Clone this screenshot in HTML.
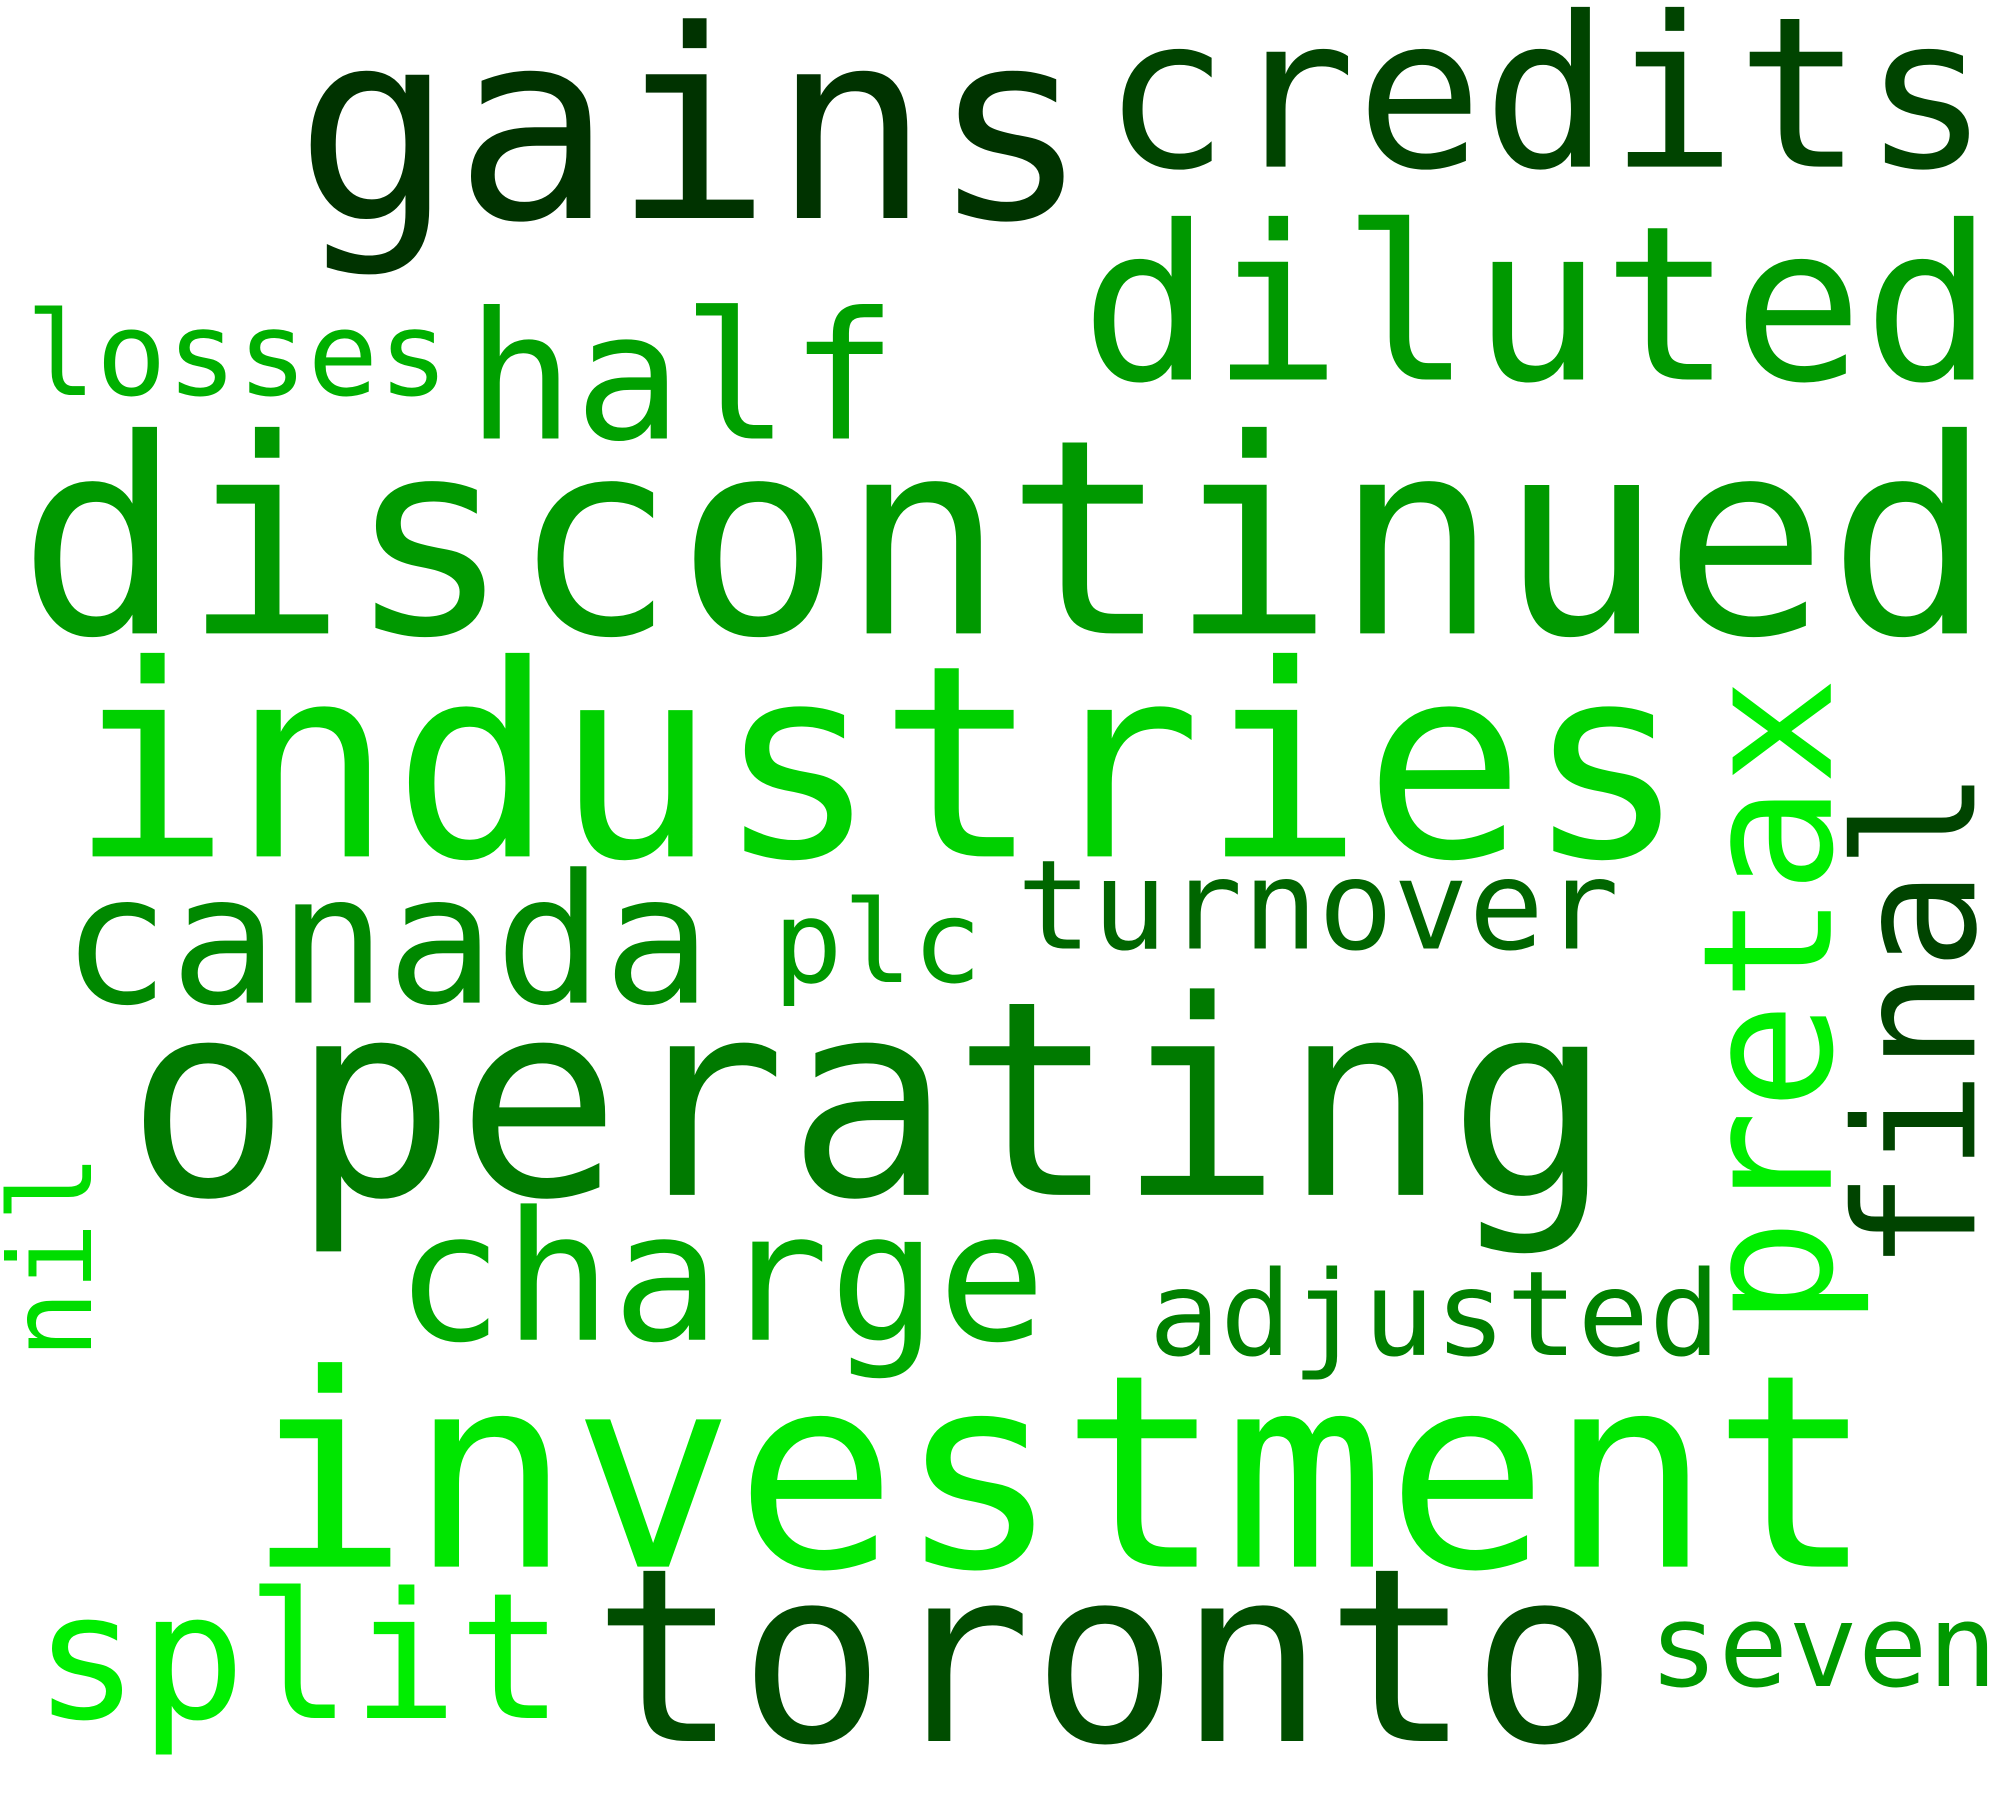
<!DOCTYPE html>
<html><head><meta charset="utf-8"><style>
html,body{margin:0;padding:0;background:#fff;}
svg{display:block;}
text{font-family:"DejaVu Sans Mono","Liberation Mono",monospace;}
</style></head><body>
<svg width="2000" height="1800" viewBox="0 0 1560 1404" preserveAspectRatio="none" xmlns="http://www.w3.org/2000/svg">
<rect width="1560" height="1404" fill="#fff"/>
<text x="230" y="170" font-size="205" fill="#003300" textLength="620" lengthAdjust="spacingAndGlyphs">gains</text>
<text x="860" y="130" font-size="164" fill="#004400" textLength="692" lengthAdjust="spacingAndGlyphs">credits</text>
<text x="843" y="296" font-size="168" fill="#009900" textLength="712" lengthAdjust="spacingAndGlyphs">diluted</text>
<text x="20" y="308" font-size="91" fill="#00b000" textLength="330" lengthAdjust="spacingAndGlyphs">losses</text>
<text x="364" y="342" font-size="138" fill="#00a000" textLength="336" lengthAdjust="spacingAndGlyphs">half</text>
<text x="14" y="494" font-size="212" fill="#009900" textLength="1540" lengthAdjust="spacingAndGlyphs">discontinued</text>
<text x="54" y="668" font-size="209" fill="#00d000" textLength="1262" lengthAdjust="spacingAndGlyphs">industries</text>
<text x="48" y="782" font-size="140" fill="#008800" textLength="507" lengthAdjust="spacingAndGlyphs">canada</text>
<text x="603" y="766" font-size="89" fill="#009900" textLength="163" lengthAdjust="spacingAndGlyphs">plc</text>
<text x="793" y="740" font-size="97" fill="#006600" textLength="470" lengthAdjust="spacingAndGlyphs">turnover</text>
<text x="98" y="932" font-size="212" fill="#007a00" textLength="1160" lengthAdjust="spacingAndGlyphs">operating</text>
<text x="308" y="1045" font-size="140" fill="#00aa00" textLength="508" lengthAdjust="spacingAndGlyphs">charge</text>
<text x="896" y="1057" font-size="92" fill="#008000" textLength="446" lengthAdjust="spacingAndGlyphs">adjusted</text>
<text x="192" y="1222" font-size="210" fill="#00e600" textLength="1270" lengthAdjust="spacingAndGlyphs">investment</text>
<text x="26" y="1340" font-size="137" fill="#00ee00" textLength="414" lengthAdjust="spacingAndGlyphs">split</text>
<text x="462" y="1358" font-size="189" fill="#004d00" textLength="800" lengthAdjust="spacingAndGlyphs">toronto</text>
<text x="1286" y="1315" font-size="90" fill="#009900" textLength="272" lengthAdjust="spacingAndGlyphs">seven</text>
<text transform="translate(1428,1035) rotate(-90)" x="0" y="0" font-size="140" fill="#00ee00" textLength="507" lengthAdjust="spacingAndGlyphs">pretax</text>
<text transform="translate(1540,992) rotate(-90)" x="0" y="0" font-size="130" fill="#004400" textLength="392" lengthAdjust="spacingAndGlyphs">final</text>
<text transform="translate(71,1060) rotate(-90)" x="0" y="0" font-size="89" fill="#00dd00" textLength="160" lengthAdjust="spacingAndGlyphs">nil</text>
</svg>
</body></html>
